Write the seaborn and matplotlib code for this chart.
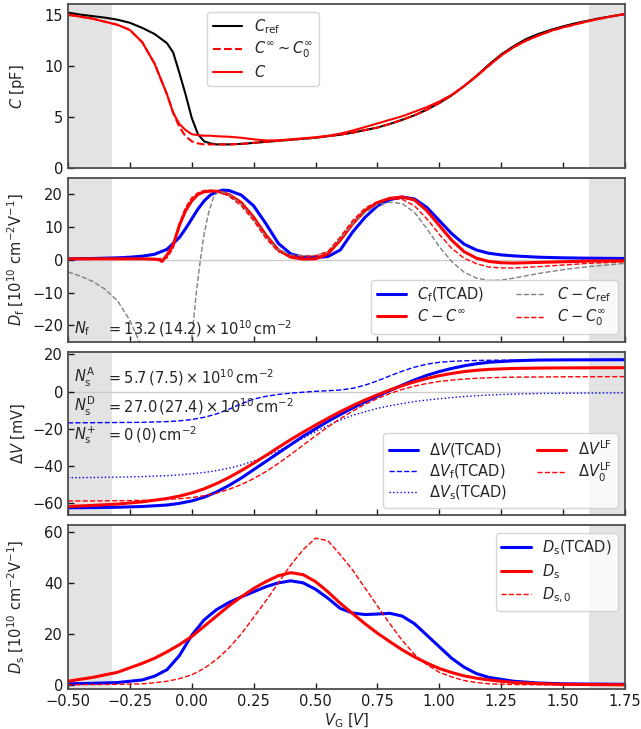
import numpy as np
import pandas as pd
import matplotlib
matplotlib.use("Agg")
import matplotlib.pyplot as plt
import seaborn as sns

# ---------------- data ----------------
# Panel 1: capacitance [pF]
vg1 = [-0.5, -0.45, -0.4, -0.35, -0.3, -0.25, -0.2, -0.15, -0.1, -0.075, -0.05, -0.025,
       0.0, 0.025, 0.05, 0.075, 0.1, 0.15, 0.2, 0.25, 0.3, 0.35, 0.4, 0.45, 0.5, 0.55,
       0.6, 0.65, 0.7, 0.75, 0.8, 0.85, 0.9, 0.95, 1.0, 1.05, 1.1, 1.15, 1.2, 1.25,
       1.3, 1.35, 1.4, 1.45, 1.5, 1.55, 1.6, 1.65, 1.7, 1.75]
c_ref = [15.2, 15.0, 14.85, 14.7, 14.5, 14.2, 13.7, 13.1, 12.2, 11.3, 9.3, 7.2,
         4.9, 3.3, 2.6, 2.4, 2.3, 2.3, 2.35, 2.45, 2.55, 2.65, 2.75, 2.85, 2.95, 3.1,
         3.25, 3.45, 3.7, 3.95, 4.3, 4.7, 5.15, 5.7, 6.35, 7.1, 8.0, 9.0, 10.1, 11.1,
         11.9, 12.6, 13.1, 13.5, 13.85, 14.15, 14.4, 14.65, 14.85, 15.05]
c_inf = [15.0, 14.8, 14.6, 14.3, 14.0, 13.5, 12.3, 10.2, 7.2, 5.4, 4.0, 3.1,
         2.6, 2.4, 2.3, 2.3, 2.3, 2.3, 2.35, 2.45, 2.55, 2.65, 2.75, 2.85, 2.95, 3.1,
         3.25, 3.45, 3.7, 3.95, 4.3, 4.7, 5.15, 5.7, 6.35, 7.1, 8.0, 9.0, 10.0, 11.0,
         11.8, 12.45, 12.95, 13.4, 13.75, 14.05, 14.35, 14.6, 14.85, 15.05]
c_meas = [15.0, 14.8, 14.6, 14.3, 14.0, 13.5, 12.3, 10.2, 7.2, 5.4, 4.3, 3.7,
          3.3, 3.2, 3.15, 3.15, 3.1, 3.05, 2.95, 2.8, 2.68, 2.7, 2.8, 2.9, 3.0, 3.15,
          3.35, 3.65, 4.0, 4.35, 4.7, 5.05, 5.5, 5.95, 6.5, 7.15, 8.0, 8.95, 10.0, 11.0,
          11.8, 12.45, 12.95, 13.4, 13.75, 14.05, 14.35, 14.6, 14.85, 15.05]

# Panel 2: D_f
vg2_cf = [-0.5, -0.45, -0.4, -0.35, -0.3, -0.25, -0.2, -0.15, -0.1, -0.05, -0.025, 0.0,
          0.025, 0.05, 0.075, 0.1, 0.125, 0.15, 0.2, 0.25, 0.3, 0.35, 0.4, 0.45, 0.5,
          0.55, 0.6, 0.65, 0.7, 0.75, 0.8, 0.85, 0.9, 0.95, 1.0, 1.05, 1.1, 1.15, 1.2,
          1.25, 1.3, 1.4, 1.5, 1.6, 1.75]
df_tcad = [0.3, 0.35, 0.4, 0.5, 0.6, 0.8, 1.1, 1.7, 3.2, 6.8, 9.5, 12.5,
           15.5, 18.0, 19.8, 20.8, 21.3, 21.2, 19.8, 16.5, 11.0, 5.0, 1.8, 0.8, 0.7,
           1.0, 3.0, 8.5, 13.0, 16.5, 18.4, 19.2, 18.6, 16.0, 12.0, 8.0, 4.8, 3.0, 2.0,
           1.5, 1.2, 0.8, 0.6, 0.5, 0.4]
vg2_cc = [-0.5, -0.4, -0.3, -0.2, -0.15, -0.13, -0.12, -0.1, -0.075, -0.05, -0.025, 0.0,
          0.025, 0.05, 0.075, 0.1, 0.15, 0.2, 0.25, 0.3, 0.35, 0.4, 0.45, 0.5, 0.55,
          0.6, 0.65, 0.7, 0.75, 0.8, 0.85, 0.9, 0.95, 1.0, 1.05, 1.1, 1.15, 1.2, 1.25,
          1.3, 1.4, 1.5, 1.6, 1.75]
df_c_cinf = [0.3, 0.3, 0.3, 0.3, 0.2, 0.0, -0.5, 1.5, 4.5, 10.5, 15.0, 18.0,
             20.0, 20.8, 21.0, 21.0, 20.0, 17.5, 13.0, 7.5, 3.0, 0.8, 0.2, 0.3, 1.8,
             6.0, 11.0, 15.0, 17.5, 18.8, 19.2, 18.3, 15.0, 10.5, 6.0, 2.5, 0.5, -0.5, -0.9,
             -1.0, -0.8, -0.6, -0.4, -0.3]
vg2_c0 = [-0.5, -0.4, -0.3, -0.2, -0.15, -0.1, -0.075, -0.05, -0.025, 0.0, 0.025, 0.05,
          0.075, 0.1, 0.15, 0.2, 0.25, 0.3, 0.35, 0.4, 0.45, 0.5, 0.55, 0.6, 0.65,
          0.7, 0.75, 0.8, 0.85, 0.9, 0.95, 1.0, 1.05, 1.1, 1.15, 1.2, 1.25, 1.3, 1.4,
          1.5, 1.6, 1.75]
df_c_c0 = [0.3, 0.3, 0.3, 0.3, 0.3, 0.5, 3.5, 11.0, 16.0, 19.0, 20.5, 21.2,
           21.3, 21.0, 19.5, 16.5, 12.0, 6.5, 2.5, 1.2, 1.0, 1.2, 2.5, 7.0, 12.0,
           15.8, 17.8, 18.6, 18.5, 16.5, 12.5, 7.8, 3.5, 0.5, -1.2, -2.2, -2.5, -2.5, -2.1,
           -1.6, -1.1, -0.6]
vg2_cr = [-0.5, -0.45, -0.4, -0.35, -0.3, -0.25, -0.2, -0.15, -0.1, -0.05, -0.02, 0.0,
          0.02, 0.035, 0.05, 0.07, 0.09, 0.11, 0.15, 0.2, 0.25, 0.3, 0.35, 0.4, 0.45,
          0.5, 0.55, 0.6, 0.65, 0.7, 0.75, 0.8, 0.85, 0.9, 0.95, 1.0, 1.05, 1.1, 1.15,
          1.2, 1.25, 1.3, 1.35, 1.4, 1.5, 1.6, 1.75]
df_c_cref = [-3.7, -5.0, -6.6, -9.0, -12.5, -18.5, -27.0, -35.0, -40.0, -40.0, -38.0, -24.0,
             -9.0, 0.0, 8.0, 15.0, 19.5, 21.0, 20.0, 17.0, 12.5, 7.0, 3.0, 1.5, 1.3,
             1.3, 2.5, 6.5, 11.0, 14.5, 16.8, 17.6, 17.2, 14.5, 9.5, 4.0, -0.5, -3.8, -5.6,
             -6.3, -6.2, -5.6, -4.9, -4.2, -3.0, -2.1, -1.1]

# Panel 3: Delta V [mV]
vg3 = [-0.5, -0.4, -0.3, -0.2, -0.1, -0.05, 0.0, 0.05, 0.1, 0.15, 0.2, 0.25, 0.3,
       0.35, 0.4, 0.45, 0.5, 0.55, 0.6, 0.65, 0.7, 0.75, 0.8, 0.85, 0.9, 0.95, 1.0,
       1.05, 1.1, 1.15, 1.2, 1.3, 1.4, 1.5, 1.75]
dv_tcad = [-62.5, -62.4, -62.2, -61.8, -61.0, -60.1, -58.8, -56.8, -54.0, -50.5, -46.5, -42.0, -37.5,
           -33.0, -28.5, -24.0, -20.0, -16.0, -12.3, -8.8, -5.5, -2.4, 0.6, 3.5, 6.3, 8.8, 10.8,
           12.5, 13.9, 15.0, 15.8, 16.6, 17.0, 17.1, 17.2]
dvf_tcad = [-16.8, -16.7, -16.6, -16.5, -16.1, -15.7, -15.0, -13.8, -12.0, -9.5, -6.5, -4.0, -2.5,
            -1.5, -0.8, -0.3, 0.2, 0.5, 0.9, 1.8, 3.5, 5.8, 8.5, 11.0, 13.2, 14.8, 15.8,
            16.3, 16.6, 16.8, 16.9, 17.0, 17.0, 17.1, 17.1]
dvs_tcad = [-46.3, -46.2, -46.0, -45.7, -45.2, -44.8, -44.2, -43.5, -42.5, -41.2, -39.5, -37.3, -34.8,
            -31.8, -28.5, -25.0, -21.5, -18.3, -15.3, -12.8, -10.8, -9.0, -7.6, -6.4, -5.3, -4.5, -3.8,
            -3.2, -2.6, -2.2, -1.8, -1.3, -1.0, -0.9, -0.6]
dv_lf = [-61.8, -61.2, -60.5, -59.3, -57.5, -56.2, -54.5, -52.3, -49.5, -46.2, -42.5, -38.5, -34.3,
         -30.0, -25.8, -21.8, -18.0, -14.3, -10.8, -7.5, -4.5, -1.7, 0.9, 3.2, 5.3, 7.1, 8.6,
         9.8, 10.8, 11.5, 12.0, 12.5, 12.7, 12.8, 12.9]
dv0_lf = [-58.8, -58.8, -58.7, -58.5, -58.0, -57.6, -57.0, -56.0, -54.6, -52.6, -50.0, -46.8, -43.0,
          -38.6, -33.8, -28.8, -23.8, -19.0, -14.5, -10.5, -6.8, -3.7, -1.0, 1.2, 3.0, 4.4, 5.5,
          6.2, 6.8, 7.2, 7.5, 7.8, 7.9, 8.0, 8.1]

# Panel 4: D_s
vg4 = [-0.5, -0.4, -0.3, -0.2, -0.15, -0.1, -0.05, 0.0, 0.05, 0.1, 0.15, 0.2, 0.25,
       0.3, 0.35, 0.4, 0.45, 0.5, 0.55, 0.6, 0.65, 0.7, 0.75, 0.8, 0.85, 0.9, 0.95,
       1.0, 1.05, 1.1, 1.15, 1.2, 1.3, 1.4, 1.5, 1.6, 1.75]
ds_tcad = [0.5, 0.7, 1.0, 2.0, 3.5, 6.0, 11.5, 19.5, 25.5, 29.5, 32.3, 34.5, 36.5,
           38.5, 40.0, 40.8, 40.0, 37.5, 34.0, 30.0, 28.2, 27.6, 27.8, 28.1, 27.0, 24.0, 19.5,
           15.0, 10.5, 7.0, 4.5, 3.0, 1.5, 0.8, 0.5, 0.4, 0.3]
ds_lf = [1.5, 3.0, 5.0, 8.5, 10.5, 13.0, 15.8, 19.0, 23.0, 27.0, 31.0, 34.5, 37.8,
         40.5, 42.8, 44.0, 43.2, 40.5, 36.5, 32.0, 28.0, 24.0, 20.3, 17.0, 13.8, 11.0, 8.6,
         6.5, 4.9, 3.6, 2.7, 2.0, 1.0, 0.6, 0.3, 0.2, 0.1]
ds0_lf = [0.1, 0.2, 0.3, 0.5, 0.9, 1.5, 2.5, 4.0, 6.5, 10.0, 14.5, 20.0, 26.5,
          33.0, 40.0, 47.0, 53.0, 57.5, 56.5, 51.0, 45.0, 38.0, 31.0, 24.0, 17.5, 12.0, 8.0,
          5.0, 3.2, 1.8, 1.0, 0.5, 0.2, 0.1, 0.05, 0.05, 0.05]

# ---------------- style ----------------
sns.set_style("ticks")
plt.rcParams.update({
    "font.family": ["DejaVu Sans"],
    "mathtext.fontset": "dejavusans",
    "font.size": 10.5,
    "axes.labelsize": 10.5,
    "xtick.labelsize": 10.5,
    "ytick.labelsize": 10.5,
    "legend.fontsize": 10.5,
    "legend.labelspacing": 0.3,
    "xtick.direction": "in",
    "ytick.direction": "in",
    "axes.edgecolor": "0.3",
    "axes.linewidth": 1.3,
    "xtick.color": "0.1",
    "ytick.color": "0.1",
})

fig = plt.figure(figsize=(6.41, 7.29), dpi=100)
axes = fig.subplots(4, 1, sharex=True, gridspec_kw=dict(hspace=0.062))
fig.subplots_adjust(left=0.106, right=0.975, top=0.994, bottom=0.055)

def shade(ax):
    ax.axvspan(-0.5, -0.322, color="0.89", lw=0, zorder=0)
    ax.axvspan(1.605, 1.75, color="0.89", lw=0, zorder=0)

def line(ax, x, y, **kw):
    sns.lineplot(x=x, y=y, ax=ax, estimator=None, sort=False, **kw)

# Panel 1
ax = axes[0]
shade(ax)
line(ax, vg1, c_ref, color="black", lw=1.5, label=r"$C_\mathrm{ref}$")
line(ax, vg1, c_inf, color="red", lw=1.5, linestyle="--", label=r"$C^{\infty} \sim C_0^{\infty}$")
line(ax, vg1, c_meas, color="red", lw=1.5, label=r"$C$")
ax.set_ylim(0, 16)
ax.set_yticks([0, 5, 10, 15])
ax.set_ylabel(r"$C$ [pF]")
ax.legend(loc="upper center", bbox_to_anchor=(0.35, 1.0), labelspacing=0.25)

# Panel 2
ax = axes[1]
shade(ax)
ax.axhline(0, color="0.8", lw=1, zorder=0.5)
line(ax, vg2_cf, df_tcad, color="blue", lw=2.2, label=r"$C_\mathrm{f}$(TCAD)")
line(ax, vg2_cc, df_c_cinf, color="red", lw=2.2, label=r"$C - C^{\infty}$")
line(ax, vg2_cr, df_c_cref, color="grey", lw=1.0, linestyle="--", label=r"$C - C_\mathrm{ref}$")
line(ax, vg2_c0, df_c_c0, color="red", lw=1.0, linestyle="--", label=r"$C - C_0^{\infty}$")
ax.set_ylim(-25, 25)
ax.set_yticks([-20, -10, 0, 10, 20])
ax.set_ylabel(r"$D_\mathrm{f}$ [$10^{10}$ cm$^{-2}$V$^{-1}$]")
ax.legend(loc="lower right", ncol=2, labelspacing=0.25, columnspacing=2.2)
ax.text(0.01, 0.08, r"$N_\mathrm{f}$", transform=ax.transAxes, va="center")
ax.text(0.068, 0.08, r"$= 13.2\,(14.2) \times 10^{10}\,\mathrm{cm}^{-2}$", transform=ax.transAxes, va="center")

# Panel 3
ax = axes[2]
shade(ax)
ax.axhline(0, color="0.8", lw=1, zorder=0.5)
line(ax, vg3, dv_tcad, color="blue", lw=2.2, label=r"$\Delta V$(TCAD)")
line(ax, vg3, dvf_tcad, color="blue", lw=1.0, linestyle="--", label=r"$\Delta V_\mathrm{f}$(TCAD)")
line(ax, vg3, dvs_tcad, color="blue", lw=1.0, linestyle=":", label=r"$\Delta V_\mathrm{s}$(TCAD)")
line(ax, vg3, dv_lf, color="red", lw=2.2, label=r"$\Delta V^\mathrm{LF}$")
line(ax, vg3, dv0_lf, color="red", lw=1.0, linestyle="--", label=r"$\Delta V_0^\mathrm{LF}$")
ax.set_ylim(-66.5, 21.5)
ax.set_yticks([-60, -40, -20, 0, 20])
ax.set_ylabel(r"$\Delta V$ [mV]")
ax.legend(loc="lower right", ncol=2, labelspacing=0.2)
ns_labels = [r"$N_\mathrm{s}^\mathrm{A}$", r"$N_\mathrm{s}^\mathrm{D}$", r"$N_\mathrm{s}^{+}$"]
ns_values = [r"$= 5.7\,(7.5) \times 10^{10}\,\mathrm{cm}^{-2}$",
             r"$= 27.0\,(27.4) \times 10^{10}\,\mathrm{cm}^{-2}$",
             r"$= 0\,(0)\,\mathrm{cm}^{-2}$"]
for yy, lab, val in zip([0.84, 0.665, 0.49], ns_labels, ns_values):
    ax.text(0.01, yy, lab, transform=ax.transAxes, va="center")
    ax.text(0.068, yy, val, transform=ax.transAxes, va="center")

# Panel 4
ax = axes[3]
shade(ax)
line(ax, vg4, ds_tcad, color="blue", lw=2.2, label=r"$D_\mathrm{s}$(TCAD)")
line(ax, vg4, ds_lf, color="red", lw=2.2, label=r"$D_\mathrm{s}$")
line(ax, vg4, ds0_lf, color="red", lw=1.0, linestyle="--", label=r"$D_{\mathrm{s},0}$")
ax.set_ylim(-1.5, 62.5)
ax.set_yticks([0, 20, 40, 60])
ax.set_ylabel(r"$D_\mathrm{s}$ [$10^{10}$ cm$^{-2}$V$^{-1}$]")
ax.legend(loc="upper right", labelspacing=0.35)

axes[-1].set_xlim(-0.5, 1.75)
axes[-1].set_xticks([-0.5, -0.25, 0.0, 0.25, 0.5, 0.75, 1.0, 1.25, 1.5, 1.75])
axes[-1].set_xticklabels(["−0.50", "−0.25", "0.00", "0.25", "0.50", "0.75", "1.00", "1.25", "1.50", "1.75"])
axes[-1].set_xlabel(r"$V_\mathrm{G}$ [$V$]", labelpad=2)
for ax in axes:
    ax.tick_params(length=4, width=1)
fig.align_ylabels(axes)

fig.savefig("out.png", dpi=100)
